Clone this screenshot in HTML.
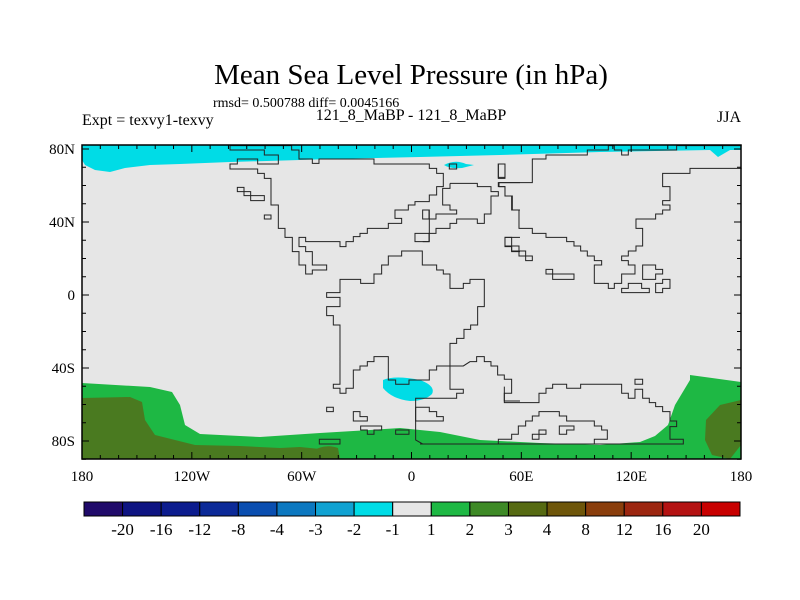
<!DOCTYPE html>
<html><head><meta charset="utf-8">
<style>
html,body{margin:0;padding:0;background:#fff;}
svg{display:block;font-family:"Liberation Serif",serif;}
</style></head>
<body>
<svg id="c" width="800" height="600" viewBox="0 0 800 600">
<text x="411" y="84" font-size="29" text-anchor="middle">Mean Sea Level Pressure (in hPa)</text>
<text x="213" y="107" font-size="14">rmsd= 0.500788 diff= 0.0045166</text>
<text x="82" y="125" font-size="16">Expt = texvy1-texvy</text>
<text x="411" y="120" font-size="16" text-anchor="middle">121_8_MaBP - 121_8_MaBP</text>
<text x="741" y="122" font-size="16" text-anchor="end">JJA</text>
<defs><clipPath id="mc"><rect x="82" y="145" width="659" height="314"/></clipPath></defs>
<g clip-path="url(#mc)">
<rect x="82" y="145" width="659" height="314" fill="#e6e6e6"/>
<path fill="#00dce6" d="M82,145 L741,145 L741,150 L730,150 L718,157 L710,150 L600,152 L500,155 L420,157 L330,159 L300,160 L230,162 L180,164 L150,165 L125,168 L110,172 L95,170 L85,165 L82,160 Z"/>
<path fill="#00dce6" d="M444,165 Q455,159 466,164 L474,165 L462,168 Q450,169 444,165 Z"/>
<path fill="#00dce6" d="M383,380 Q395,375 420,380 Q436,386 432,394 Q425,401 410,401 Q392,399 383,388 Z"/>
<path fill="#1eb844" d="M82,383 L150,387 L172,392 L180,405 L185,425 L200,434 L260,437 L320,433 L370,430 L400,428 L440,432 L480,440 L540,443 L600,445 L640,442 L655,436 L668,425 L675,405 L690,380 L690,375 L712,378 L741,382 L741,459 L82,459 Z"/>
<path fill="#4a7a20" d="M82,398 L130,397 L142,402 L145,420 L155,435 L195,445 L240,446 L280,448 L300,447 L330,450 L338,459 L82,459 Z M310,452 Q325,443 338,448 L340,459 L308,459 Z M706,420 L720,405 L741,400 L741,445 L730,459 L712,455 L705,440 Z"/>
</g>
<g fill="none" stroke="#222" stroke-width="3" transform="translate(220,140) scale(0.3333)">
<path d="M30,17 L215,17 L215,30 L237,30 L237,57 L277,57 L277,70 L297,70 L297,57 L462,57 L462,72 L628,72 L628,85 L650,85 L650,100 L670,100 L670,140 L650,140 L650,165 L628,165 L628,185 L585,185 L585,195 L565,195 L565,210 L525,210 L525,235 L545,235 L545,250 L505,250 L505,265 L442,265 L442,280 L420,280 L420,290 L400,290 L400,305 L378,305 L378,320 L360,320 L360,305 L257,305 L257,292 L237,292 L237,320 L257,320 L257,335 L277,335 L277,375 L320,375 L320,390 L277,390 L277,402 L257,402 L257,375 L237,375 L237,335 L217,335 L217,292 L195,292 L195,265 L175,265 L175,195 L153,195 L153,115 L133,115 L133,100 L113,100 L113,87 L30,87 L30,72 L52,72 L52,57 L113,57 L113,72 L175,72 L175,45 L133,45 L133,30 L30,30 Z"/>
<path d="M52,142 L72,142 L72,155 L92,155 L92,167 L133,167 L133,182 L92,182 L92,167 L72,167 L72,155 L52,155 Z"/>
<path d="M133,225 L153,225 L153,237 L133,237 Z M320,802 L340,802 L340,815 L320,815 Z M298,898 L360,898 L360,912 L298,912 Z"/>
<path d="M360,418 L422,418 L422,430 L462,430 L462,402 L485,402 L485,375 L505,375 L505,348 L545,348 L545,333 L607,333 L607,375 L650,375 L650,390 L670,390 L670,402 L690,402 L690,445 L730,445 L730,430 L750,430 L750,418 L793,418 L793,500 L773,500 L773,555 L752,555 L752,568 L732,568 L732,595 L710,595 L710,610 L690,610 L690,678 L650,678 L650,690 L628,690 L628,720 L567,720 L567,733 L527,733 L527,720 L505,720 L505,650 L462,650 L462,665 L442,665 L442,678 L420,678 L420,690 L400,690 L400,745 L378,745 L378,760 L360,760 L360,745 L340,745 L340,733 L360,733 L360,555 L340,555 L340,527 L320,527 L320,500 L360,500 L360,472 L320,472 L320,458 L360,458 Z"/>
<path d="M400,815 L420,815 L420,830 L442,830 L442,843 L400,843 Z M422,858 L485,858 L485,870 L462,870 L462,883 L442,883 L442,870 L422,870 Z M527,870 L567,870 L567,883 L527,883 Z"/>
<path d="M900,783 L853,783 L853,760 L875,760 L875,718 L853,718 L853,705 L833,705 L833,678 L813,678 L813,665 L793,665 L793,650 L770,650 L770,665 L750,665 L730,678 L690,678 L690,748 L730,748 L730,760 L710,760 L710,775 L587,775 L587,900 L608,912 L900,912"/>
<path d="M587,802 L628,802 L628,815 L650,815 L650,830 L670,830 L670,843 L587,843 Z"/>
<path d="M585,305 L628,305 L628,210 L608,210 L608,237 L628,237 L628,280 L585,280 Z"/>
<path d="M688,72 L710,72 L710,87 L688,87 Z M835,72 L855,72 L855,115 L835,115 Z"/>
<path d="M900,128 L835,128 L835,140 L855,140 L855,168 L875,168 L875,210 L900,210 M900,292 L855,292 L855,320 L875,320 L875,335 L900,335"/>
</g>
<g fill="none" stroke="#222" stroke-width="3" transform="translate(420,140) scale(0.3333)">
<path d="M90,130 L172,130 L172,140 L213,140 L213,155 L235,155 L235,168 L213,168 L213,222 L193,222 L193,250 L172,250 L172,237 L110,237 L110,250 L90,250 L90,265 L48,265 L48,280 L27,280 L27,305 L8,305 M90,130 L90,145 L68,145 L68,195 L90,195 L90,210 L110,210 L110,222 L48,222 L48,237 L27,237 L27,210 L8,210"/>
<path d="M235,72 L255,72 L255,112 L235,112 Z"/>
<path d="M237,140 L237,128 L337,128 L337,57 L378,57 L378,45 L502,45 L502,30 L565,30 L565,17 L583,17 L583,30 L605,30 L605,45 L625,45 L625,30 L770,30 L770,17 L965,17"/>
<path d="M965,85 L810,85 L810,100 L728,100 L728,140 L750,140 L750,182 L728,182 L728,195 L750,195 L750,210 L728,210 L728,222 L707,222 L707,237 L648,237 L648,265 L668,265 L668,318 L648,318 L648,333 L625,333 L625,348 L605,348 L605,362 L625,362 L625,375 L645,375 L645,402 L605,402 L605,430 L583,430 L583,445 L565,445 L565,430 L523,430 L523,375 L545,375 L545,362 L523,362 L523,348 L502,348 L502,333 L482,333 L482,318 L462,318 L462,305 L440,305 L440,292 L378,292 L378,280 L337,280 L337,265 L297,265 L297,210 L277,210 L277,168 L255,168 L255,140 L237,140"/>
<path d="M255,292 L275,292 L275,318 L297,318 L297,333 L317,333 L317,348 L337,348 L337,362 L317,362 L317,348 L297,348 L297,333 L275,333 L275,318 L255,318 Z"/>
<path d="M378,388 L398,388 L398,402 L462,402 L462,418 L398,418 L398,402 L378,402 Z"/>
<path d="M668,375 L707,375 L707,388 L728,388 L728,402 L707,402 L707,418 L668,418 Z M605,445 L625,445 L625,430 L665,430 L665,445 L688,445 L688,458 L605,458 Z M707,430 L728,430 L728,418 L750,418 L750,445 L728,445 L728,458 L707,458 Z"/>
<path d="M253,740 L253,788 L357,788 L357,760 L378,760 L378,745 L398,745 L398,733 L440,733 L440,745 L482,745 L482,733 L605,733 L605,760 L625,760 L625,775 L645,775 L645,748 L668,748 L668,775 L688,775 L688,788 L707,788 L707,800 L728,800 L728,815 L750,815 L750,843 L770,843 L770,860 L750,860 L750,898 L790,898 L790,912 L0,912"/>
<path d="M645,718 L668,718 L668,733 L645,733 Z"/>
<path d="M8,912 L235,912 L235,898 L275,898 L275,883 L295,883 L295,858 L317,858 L317,843 L337,843 L337,828 L357,828 L357,815 L418,815 L418,828 L440,828 L440,843 L523,843 L523,858 L545,858 L545,870 L562,870 L562,898 L523,898 L523,912"/>
<path d="M337,883 L357,883 L357,870 L378,870 L378,883 L357,883 L357,898 L337,898 Z M418,858 L462,858 L462,870 L440,870 L440,883 L418,883 Z"/>
</g>
<g id="axes"></g>
<g id="cbar"></g>
<script>
var lonTicks=[-180,-120,-60,0,60,120,180];
var lonLabels=["180","120W","60W","0","60E","120E","180"];
var latTicks=[80,40,0,-40,-80];
var latLabels=["80N","40N","0","40S","80S"];
var levels=["-20","-16","-12","-8","-4","-3","-2","-1","1","2","3","4","8","12","16","20"];
var levelColors=["#200a6a","#0e1482","#0c1c8e","#0c2a98","#0a4eb0","#0c78c0","#10a2d2","#00dce6","#e6e6e6","#1eb844","#3e8a26","#566a12","#6e560a","#8a3e0c","#9c2610","#b41212","#c80000"];
var NS="http://www.w3.org/2000/svg";
var L=82,R=741,T=145,B=459;
function xLon(v){return L+(v+180)/360*(R-L);}
function yLat(v){return 295-v*1.825;}
function mk(t,a,p){var e=document.createElementNS(NS,t);for(var k in a)e.setAttribute(k,a[k]);p.appendChild(e);return e;}
var ax=document.getElementById('axes');
var fr=mk('rect',{x:L,y:T,width:R-L,height:B-T,fill:'none',stroke:'#000','stroke-width':1.5},ax);


for(var d=-180;d<=180;d+=10){var x=xLon(d),big=(d%60===0);
mk('line',{x1:x,y1:B,x2:x,y2:B-(big?7:4),stroke:'#000'},ax);
mk('line',{x1:x,y1:T,x2:x,y2:T+(big?7:4),stroke:'#000'},ax);}
for(var d=-90;d<=80;d+=10){var y=yLat(d),big=(d%40===0);
mk('line',{x1:L,y1:y,x2:L+(big?7:4),y2:y,stroke:'#000'},ax);
mk('line',{x1:R,y1:y,x2:R-(big?7:4),y2:y,stroke:'#000'},ax);}
lonTicks.forEach(function(v,i){var t=mk('text',{x:xLon(v),y:481,'font-size':15,'text-anchor':'middle'},ax);t.textContent=lonLabels[i];

});
latTicks.forEach(function(v,i){var t=mk('text',{x:75,y:yLat(v)+5,'font-size':15,'text-anchor':'end'},ax);t.textContent=latLabels[i];

});
var cb=document.getElementById('cbar');
var cx0=84,cx1=740,n=levelColors.length,w=(cx1-cx0)/n;
levelColors.forEach(function(c,i){var r=mk('rect',{x:cx0+i*w,y:502,width:w,height:14,fill:c,stroke:'#000','stroke-width':1},cb);

});
levels.forEach(function(s,i){var t=mk('text',{x:cx0+(i+1)*w,y:535,'font-size':17,'text-anchor':'middle'},cb);t.textContent=s;

});
</script>
</svg>
</body></html>
